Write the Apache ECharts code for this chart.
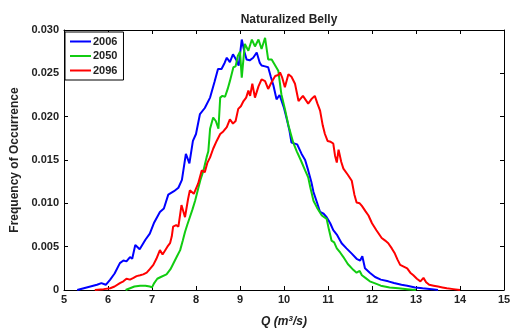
<!DOCTYPE html>
<html><head><meta charset="utf-8">
<script src="https://cdn.jsdelivr.net/npm/echarts@6/dist/echarts.min.js"></script>
<style>html,body{margin:0;padding:0;background:#fff}#c{width:515px;height:328px}</style>
</head><body><div id="c"></div>
<script>
var seriesNames = ['2006', '2050', '2096'];
var xTicks = [5, 6, 7, 8, 9, 10, 11, 12, 13, 14, 15];
var yTicks = [0, 0.005, 0.010, 0.015, 0.020, 0.025, 0.030];

var q2006 = [5.3,5.45,5.6,5.75,5.85,5.95,6.05,6.15,6.27,6.35,6.42,6.5,6.55,6.62,6.72,6.85,6.95,7.05,7.18,7.27,7.37,7.5,7.6,7.68,7.77,7.85,7.93,8.0,8.09,8.2,8.32,8.42,8.5,8.58,8.65,8.7,8.77,8.84,8.92,8.97,9.04,9.1,9.15,9.22,9.3,9.38,9.45,9.49,9.57,9.64,9.7,9.76,9.83,9.9,9.94,10.0,10.06,10.12,10.17,10.3,10.4,10.48,10.55,10.62,10.67,10.75,10.82,10.9,10.97,11.05,11.12,11.2,11.31,11.42,11.54,11.65,11.73,11.78,11.84,11.95,12.07,12.2,12.37,12.5,12.67,12.8,12.98,13.15,13.36,13.5];
var f2006 = [0,0.0002,0.0004,0.0006,0.0008,0.0006,0.0012,0.0019,0.0031,0.0034,0.0033,0.0038,0.0036,0.0052,0.0047,0.0058,0.0065,0.0078,0.0090,0.0094,0.0110,0.0114,0.0118,0.0127,0.0157,0.0146,0.0172,0.0180,0.0203,0.0210,0.0222,0.0240,0.0255,0.0255,0.0262,0.0268,0.0263,0.0272,0.0265,0.0259,0.0289,0.0275,0.0266,0.0265,0.0268,0.0274,0.0262,0.0259,0.0258,0.0257,0.0246,0.0236,0.0220,0.0225,0.0226,0.0210,0.0198,0.0185,0.0170,0.0168,0.0157,0.0150,0.0138,0.0125,0.0113,0.0101,0.0090,0.0088,0.0084,0.0077,0.0069,0.0064,0.0054,0.0048,0.0042,0.0036,0.0034,0.0039,0.0025,0.0020,0.0015,0.0012,0.0010,0.0008,0.0006,0.0005,0.0003,0.0002,0.0001,0];

var q2050 = [6.4,6.5,6.6,6.73,6.85,6.95,7.0,7.05,7.12,7.2,7.33,7.42,7.48,7.56,7.64,7.7,7.75,7.8,7.86,7.92,7.98,8.05,8.1,8.17,8.24,8.28,8.32,8.39,8.45,8.51,8.55,8.6,8.66,8.72,8.77,8.85,8.9,8.95,9.0,9.04,9.11,9.19,9.27,9.34,9.42,9.49,9.57,9.64,9.72,9.79,9.87,9.94,10.02,10.1,10.21,10.29,10.38,10.48,10.55,10.6,10.67,10.75,10.86,10.97,11.02,11.08,11.14,11.2,11.28,11.35,11.45,11.58,11.65,11.72,11.77,11.85,11.95,12.1,12.2,12.4,12.6,12.8,13.0];
var f2050 = [0,0.0002,0.0004,0.0005,0.0005,0.0004,0.0003,0.0008,0.0013,0.0015,0.0018,0.0024,0.0030,0.0038,0.0046,0.0057,0.0067,0.0075,0.0084,0.0093,0.0103,0.0117,0.0127,0.0138,0.0153,0.0160,0.0186,0.0199,0.0195,0.0186,0.0222,0.0224,0.0223,0.0232,0.0241,0.0257,0.0258,0.0270,0.0275,0.0245,0.0284,0.0276,0.0289,0.0281,0.0289,0.0278,0.0291,0.0266,0.0266,0.0260,0.0253,0.0226,0.0209,0.0190,0.0170,0.0160,0.0150,0.0138,0.0130,0.0118,0.0103,0.0095,0.0086,0.0082,0.0070,0.0057,0.0055,0.0048,0.0043,0.0038,0.0030,0.0023,0.0020,0.0022,0.0017,0.0014,0.0010,0.0007,0.0005,0.0003,0.0002,0.0001,0];

var q2096 = [5.7,5.9,6.05,6.15,6.27,6.35,6.42,6.5,6.58,6.65,6.73,6.8,6.88,6.95,7.03,7.1,7.18,7.24,7.29,7.35,7.41,7.45,7.48,7.55,7.6,7.67,7.75,7.82,7.86,7.95,8.05,8.13,8.2,8.26,8.32,8.39,8.47,8.55,8.62,8.7,8.77,8.84,8.9,8.96,9.02,9.08,9.14,9.19,9.23,9.28,9.34,9.42,9.49,9.57,9.64,9.72,9.8,9.87,9.91,9.96,10.02,10.1,10.17,10.25,10.33,10.43,10.55,10.62,10.7,10.76,10.82,10.88,10.93,10.99,11.06,11.12,11.16,11.2,11.24,11.3,11.35,11.45,11.54,11.6,11.65,11.72,11.77,11.85,11.92,12.0,12.1,12.22,12.3,12.37,12.45,12.52,12.58,12.64,12.72,12.8,12.87,12.94,13.02,13.1,13.17,13.23,13.3,13.4,13.5,13.6,13.7,13.85,14.0];
var f2096 = [0,0.0001,0.0002,0.0004,0.0008,0.0010,0.0013,0.0012,0.0014,0.0016,0.0017,0.0018,0.0020,0.0024,0.0029,0.0036,0.0046,0.0041,0.0045,0.0050,0.0054,0.0062,0.0073,0.0075,0.0073,0.0098,0.0084,0.0105,0.0115,0.0111,0.0123,0.0138,0.0136,0.0147,0.0153,0.0163,0.0172,0.0180,0.0183,0.0188,0.0197,0.0192,0.0195,0.0209,0.0212,0.0218,0.0222,0.0230,0.0224,0.0238,0.0222,0.0235,0.0243,0.0241,0.0232,0.0240,0.0247,0.0248,0.0251,0.0245,0.0234,0.0249,0.0246,0.0238,0.0218,0.0224,0.0215,0.0220,0.0224,0.0215,0.0207,0.0190,0.0180,0.0172,0.0171,0.0169,0.0155,0.0147,0.0162,0.0148,0.0140,0.0133,0.0126,0.0110,0.0101,0.0100,0.0097,0.0091,0.0086,0.0077,0.0069,0.0060,0.0057,0.0054,0.0048,0.0042,0.0035,0.0029,0.0027,0.0025,0.0020,0.0017,0.0013,0.0010,0.0014,0.0009,0.0006,0.0005,0.0004,0.0003,0.0002,0.0001,0];

var colors = ['#0000ff', '#11cc11', '#ff0000'];

function zip(a, b) { return a.map(function (v, i) { return [v, b[i]]; }); }
var allQ = [q2006, q2050, q2096];
var allF = [f2006, f2050, f2096];

var FONT = 'Liberation Sans, Arial, Helvetica, sans-serif';
var chart = echarts.init(document.getElementById('c'), null, { renderer: 'canvas' });

var xMin = xTicks[0], xMax = xTicks[xTicks.length - 1];
var yMin = yTicks[0], yMax = yTicks[yTicks.length - 1];

function baseX(pos, show) {
  return {
    type: 'value', position: pos, min: xMin, max: xMax, interval: 1,
    axisLine: { show: true, onZero: false, lineStyle: { color: '#000', width: 1 } },
    axisTick: { show: true, inside: true, length: 4, lineStyle: { color: '#000' } },
    axisLabel: { show: show, color: '#222', fontSize: 11, fontWeight: 'bold', fontFamily: FONT, margin: 4 },
    splitLine: { show: false }
  };
}
function baseY(pos, show) {
  return {
    type: 'value', position: pos, min: yMin, max: yMax, interval: 0.005,
    axisLine: { show: true, onZero: false, lineStyle: { color: '#000', width: 1 } },
    axisTick: { show: true, inside: true, length: 4, lineStyle: { color: '#000' } },
    axisLabel: { show: show, color: '#222', fontSize: 11, fontWeight: 'bold', fontFamily: FONT, margin: 5,
      formatter: function (v) { return v === 0 ? '0' : v.toFixed(3); } },
    splitLine: { show: false }
  };
}

var xb = baseX('bottom', true);
xb.name = '{q|Q (m}{s|3}{q|/s)}';
xb.nameLocation = 'middle';
xb.nameGap = 25;
xb.nameTextStyle = { rich: {
  q: { fontSize: 12, fontStyle: 'italic', fontWeight: 'bold', color: '#222', fontFamily: FONT },
  s: { fontSize: 8, fontStyle: 'italic', fontWeight: 'bold', color: '#222', fontFamily: FONT, verticalAlign: 'top', padding: [0, 0, 6, 0] }
} };

var yl = baseY('left', true);
yl.name = 'Frequency of Occurrence';
yl.nameLocation = 'middle';
yl.nameGap = 31;
yl.nameTextStyle = { fontSize: 12, fontWeight: 'bold', color: '#222', fontFamily: FONT };

chart.setOption({
  animation: false,
  backgroundColor: '#fff',
  title: { text: 'Naturalized Belly', left: 284, top: 9, textAlign: 'center',
    textStyle: { fontSize: 12, fontWeight: 'bold', color: '#222', fontFamily: FONT } },
  grid: { left: 64, right: 11, top: 30, bottom: 38, containLabel: false, outerBoundsMode: 'none' },
  legend: {
    data: seriesNames, orient: 'vertical', left: 65, top: 32,
    icon: 'rect', itemWidth: 21, itemHeight: 2, itemGap: 1.5,
    backgroundColor: '#fff', borderColor: '#000', borderWidth: 1,
    padding: [3, 6, 3, 5],
    textStyle: { fontSize: 11, fontWeight: 'bold', color: '#222', fontFamily: FONT, padding: [0, 0, 0, -3], lineHeight: 13 }
  },
  xAxis: [xb, baseX('top', false)],
  yAxis: [yl, baseY('right', false)],
  series: seriesNames.map(function (n, i) {
    return {
      name: n, type: 'line', xAxisIndex: 0, yAxisIndex: 0,
      data: zip(allQ[i], allF[i]), symbol: 'none', showSymbol: false,
      lineStyle: { color: colors[i], width: 2 }, itemStyle: { color: colors[i] }
    };
  })
});
</script>
</body></html>
